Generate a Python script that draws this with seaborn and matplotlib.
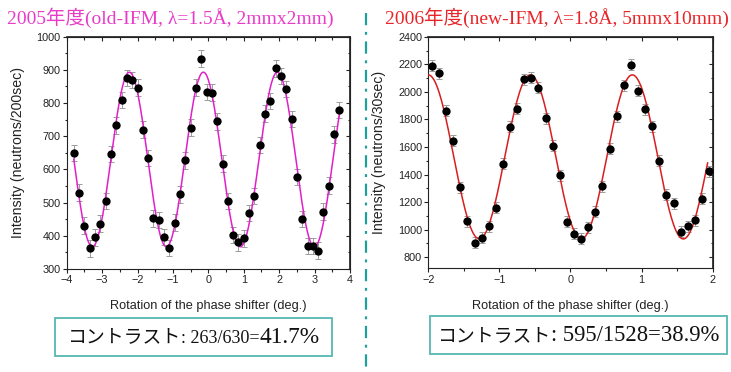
import numpy as np
import matplotlib.pyplot as plt
import seaborn as sns
from matplotlib.offsetbox import TextArea, HPacker, AnchoredOffsetbox
from matplotlib.patches import Rectangle
from matplotlib.lines import Line2D
from matplotlib.ticker import MultipleLocator

# 2005 measurement (old IFM)
x_2005 = [-3.80, -3.65, -3.50, -3.35, -3.20, -3.05, -2.90, -2.75, -2.60, -2.45,
          -2.30, -2.15, -2.00, -1.85, -1.70, -1.55, -1.40, -1.25, -1.10, -0.95,
          -0.80, -0.65, -0.50, -0.35, -0.20, -0.05, 0.10, 0.25, 0.40, 0.55,
          0.70, 0.85, 1.00, 1.15, 1.30, 1.45, 1.60, 1.75, 1.90, 2.05,
          2.20, 2.35, 2.50, 2.65, 2.80, 2.95, 3.10, 3.25, 3.40, 3.55, 3.70]
y_2005 = [650, 530, 431, 362, 395, 437, 505, 646, 733, 809,
          876, 870, 846, 720, 635, 453, 448, 396, 363, 440,
          525, 627, 726, 846, 934, 833, 831, 745, 617, 505,
          402, 380, 392, 469, 520, 674, 768, 806, 905, 881,
          842, 752, 577, 451, 369, 369, 355, 473, 551, 706, 779]
err_2005 = 25
# fitted cosine: mean, amplitude, period, peak position
fit_2005 = dict(mean=630, amp=263, period=2.09, peak=-0.14, start=-3.8, stop=3.7)

# 2006 measurement (new IFM)
x_2006 = [-1.95, -1.85, -1.75, -1.65, -1.55, -1.45, -1.35, -1.25, -1.15, -1.05,
          -0.95, -0.85, -0.75, -0.65, -0.55, -0.45, -0.35, -0.25, -0.15, -0.05,
          0.05, 0.15, 0.25, 0.35, 0.45, 0.55, 0.65, 0.75, 0.85, 0.95,
          1.05, 1.15, 1.25, 1.35, 1.45, 1.55, 1.65, 1.75, 1.85, 1.95]
y_2006 = [2190, 2135, 1862, 1645, 1307, 1061, 904, 940, 1025, 1158,
          1478, 1746, 1879, 2091, 2103, 2031, 1808, 1609, 1396, 1056,
          972, 933, 1018, 1129, 1315, 1587, 1823, 2048, 2195, 2007,
          1874, 1749, 1500, 1254, 1191, 986, 1025, 1068, 1223, 1425]
err_2006 = 40
fit_2006 = dict(mean=1528, amp=595, period=1.435, peak=0.87, start=-2.0, stop=1.93)

title_2005 = "2005年度(old-IFM, λ=1.5Å, 2mmx2mm)"
title_2006 = "2006年度(new-IFM, λ=1.8Å, 5mmx10mm)"
xlabel = "Rotation of the phase shifter (deg.)"
ylabel_2005 = "Intensity (neutrons/200sec)"
ylabel_2006 = "Intensity (neutrons/30sec)"

sns.set_theme(style="ticks")
plt.rcParams['font.family'] = ['Liberation Sans', 'DejaVu Sans']
serif = ['Liberation Serif', 'Noto Sans CJK JP']
cjk = ['Noto Sans CJK JP', 'DejaVu Sans']

fig = plt.figure(figsize=(7.31, 3.72), dpi=100)
ax1 = fig.add_axes([0.0912, 0.2769, 0.3876, 0.6245])
ax2 = fig.add_axes([0.5859, 0.2788, 0.389, 0.6225])


def fit_curve(p):
    xs = np.linspace(p['start'], p['stop'], 400)
    ys = p['mean'] + p['amp'] * np.cos(2 * np.pi * (xs - p['peak']) / p['period'])
    return xs, ys


def draw_panel(ax, x, y, err, fit, color, xlim, ylim, xmaj, ymaj, ylabel):
    ax.errorbar(x, y, yerr=err, fmt='none', ecolor='#9c9c9c', elinewidth=0.7,
                capsize=2, capthick=0.7, zorder=2)
    fx, fy = fit_curve(fit)
    sns.lineplot(x=fx, y=fy, ax=ax, color=color, lw=1.1, zorder=3)
    sns.scatterplot(x=x, y=y, ax=ax, color='black', s=36, linewidth=0, zorder=4)
    ax.set_xlim(*xlim)
    ax.set_ylim(*ylim)
    ax.xaxis.set_major_locator(MultipleLocator(xmaj))
    ax.xaxis.set_minor_locator(MultipleLocator(xmaj / 2))
    ax.yaxis.set_major_locator(MultipleLocator(ymaj))
    ax.yaxis.set_minor_locator(MultipleLocator(ymaj / 2))
    ax.tick_params(which='major', length=3, width=0.8, labelsize=7.8, pad=1.5, colors='#222222')
    ax.tick_params(which='minor', length=1.8, width=0.8)
    for s in ax.spines.values():
        s.set_linewidth(0.8)
        s.set_color('#222222')
    # mirrored ticks pointing inwards on top and right
    top = ax.secondary_xaxis('top')
    right = ax.secondary_yaxis('right')
    for sec, axis, step in ((top, top.xaxis, xmaj), (right, right.yaxis, ymaj)):
        axis.set_major_locator(MultipleLocator(step))
        axis.set_minor_locator(MultipleLocator(step / 2))
        sec.tick_params(which='major', direction='in', length=3, width=0.8, labelsize=0,
                        labeltop=False, labelright=False)
        sec.tick_params(which='minor', direction='in', length=1.8, width=0.8)
    ax.set_xlabel(xlabel, fontsize=9.2, color='#222222')
    ax.set_ylabel(ylabel, fontsize=10.2, color='#222222')
    ax.xaxis.set_label_coords(0.5, -0.135)
    ax.yaxis.set_label_coords(-0.148, 0.5)


draw_panel(ax1, x_2005, y_2005, err_2005, fit_2005, '#e020c8', (-4, 4), (300, 1000),
           1, 100, ylabel_2005)
draw_panel(ax2, x_2006, y_2006, err_2006, fit_2006, '#d81e1e', (-2, 2), (720, 2400),
           1, 200, ylabel_2006)
ax2.yaxis.set_label_coords(-0.15, 0.5)

fig.text(0.233, 0.952, title_2005, ha='center', va='center', fontsize=14,
         color='#e83cc8', family=serif)
fig.text(0.762, 0.952, title_2006, ha='center', va='center', fontsize=14,
         color='#e8262a', family=serif)

# dash-dot divider
fig.add_artist(Line2D([0.5007, 0.5007], [0.965, 0.0], transform=fig.transFigure,
                      color='#1f9e9a', lw=1.6, linestyle=(0, (5.5, 3, 1.3, 3))))


def contrast_box(x0, y0, w, h, parts):
    fig.add_artist(Rectangle((x0, y0), w, h, transform=fig.transFigure, fill=False,
                             edgecolor='#56b8b3', lw=1.3))
    areas = [TextArea(t, textprops=dict(family=fam, fontsize=fs, color='#111111'))
             for t, fam, fs in parts]
    pack = HPacker(children=areas, align='baseline', pad=0, sep=0)
    fig.add_artist(AnchoredOffsetbox(loc='center', child=pack, frameon=False, pad=0,
                                     borderpad=0, bbox_to_anchor=(x0 + w / 2, y0 + h / 2),
                                     bbox_transform=fig.transFigure))


contrast_box(0.0752, 0.043, 0.3794, 0.102,
             [("コントラスト", cjk, 13.6), (": 263/630=", serif, 13), ("41.7%", serif, 16.8)])
contrast_box(0.5882, 0.048, 0.4063, 0.102,
             [("コントラスト", cjk, 13.6), (": 595/1528=38.9%", serif, 16.3)])

fig.savefig('out.png', dpi=100)
